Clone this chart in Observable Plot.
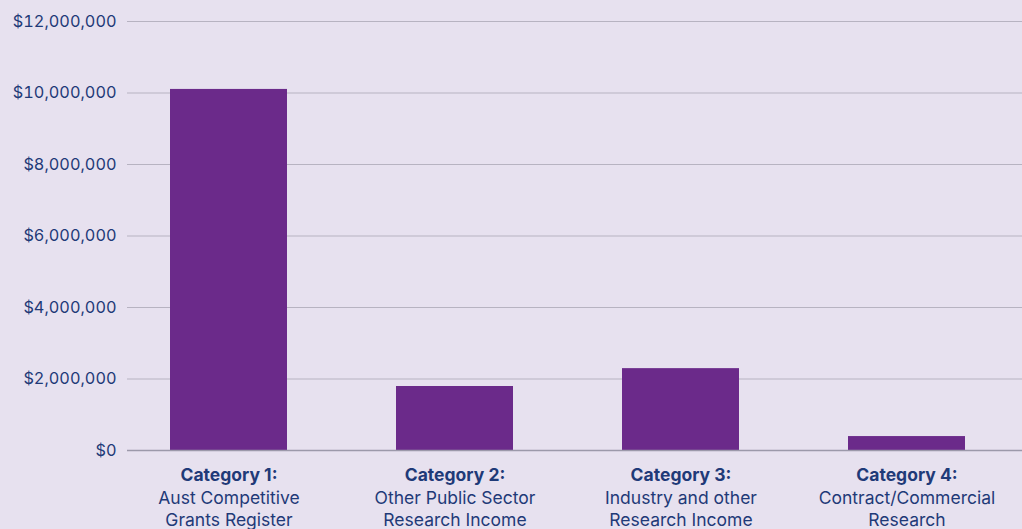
<!DOCTYPE html>
<html>
<head>
<meta charset="utf-8">
<script src="https://cdn.jsdelivr.net/npm/d3@7"></script>
<script src="https://cdn.jsdelivr.net/npm/@observablehq/plot@0.6"></script>
<style>
  html, body { margin: 0; padding: 0; background: #e7e1ef; }
  #chart svg { display: block; }
</style>
</head>
<body>
<div id="chart"></div>
<script>
const categories = ["Category 1:", "Category 2:", "Category 3:", "Category 4:"];
const descriptions = [
  "Aust Competitive\nGrants Register",
  "Other Public Sector\nResearch Income",
  "Industry and other\nResearch Income",
  "Contract/Commercial\nResearch"
];
const values = [10100000, 1790000, 2290000, 390000];
const yTicks = [0, 2000000, 4000000, 6000000, 8000000, 10000000, 12000000];

const data = categories.map((c, i) => ({ category: c, description: descriptions[i], value: values[i] }));

const textColor = "#1f3a78";
const fmt = d => "$" + d3.format(",")(d);

const chart = Plot.plot({
  width: 1022,
  height: 529,
  marginLeft: 127,
  marginRight: 0,
  marginTop: 21,
  marginBottom: 79,
  style: { background: "#e7e1ef", fontFamily: "Inter, sans-serif", fontSize: "16px", color: textColor },
  x: { domain: categories, paddingInner: 0.484, paddingOuter: 0.215, align: 0.43, axis: null },
  y: { domain: [0, 12000000], axis: null },
  marks: [
    Plot.gridY(yTicks, { stroke: "#b7b3c1", strokeOpacity: 1, strokeWidth: 1 }),
    Plot.axisY(yTicks, { tickSize: 0, tickPadding: 11, tickFormat: fmt, fill: textColor, fontSize: 16.3, label: null }),
    Plot.barY(data, { x: "category", y: "value", fill: "#6b2a8a" }),
    Plot.ruleY([0], { stroke: "#9c99aa", strokeWidth: 1.5 }),
    Plot.text(data, { x: "category", y: () => 0, text: "category", dy: 25, fontWeight: "bold", fill: textColor, fontSize: 17.5, lineAnchor: "middle" }),
    Plot.text(data, { x: "category", y: () => 0, text: "description", dy: 57, fill: textColor, fontSize: 17.5, lineHeight: 1.26, lineAnchor: "middle" })
  ]
});
document.getElementById("chart").appendChild(chart);
</script>
</body>
</html>
